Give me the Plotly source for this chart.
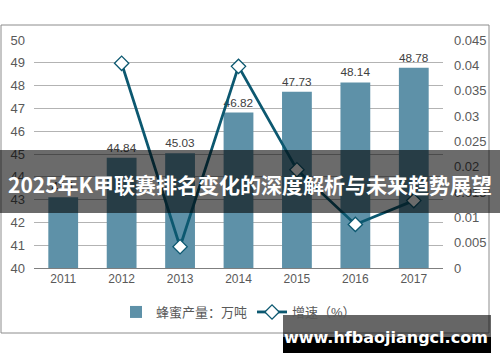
import plotly.graph_objects as go

years = ["2011", "2012", "2013", "2014", "2015", "2016", "2017"]
production = [43.1, 44.84, 45.03, 46.82, 47.73, 48.14, 48.78]
growth_years = ["2012", "2013", "2014", "2015", "2016", "2017"]
growth = [0.0404, 0.0042, 0.0398, 0.0194, 0.0086, 0.0133]
left_ticks = [40, 41, 42, 43, 44, 45, 46, 47, 48, 49, 50]
right_ticks = [0, 0.005, 0.01, 0.015, 0.02, 0.025, 0.03, 0.035, 0.04, 0.045]
right_tick_text = ["0", "0.005", "0.01", "0.015", "0.02", "0.025", "0.03", "0.035", "0.04", "0.045"]

FONT = "Liberation Sans, Arial, Noto Sans CJK SC, sans-serif"
TXT = "#595959"
BAR = "#5e91a8"
LINE = "#0c5870"

fig = go.Figure()
fig.add_trace(go.Bar(
    x=years, y=production, name="蜂蜜产量：万吨",
    marker=dict(color=BAR, line=dict(width=0)),
    text=[f"{v:g}" for v in production], textposition="outside",
    textfont=dict(size=12, color="#404040", family=FONT),
    cliponaxis=False, yaxis="y",
))
fig.add_trace(go.Scatter(
    x=growth_years, y=growth, name="增速（%）", mode="lines+markers",
    line=dict(color=LINE, width=2.8),
    marker=dict(symbol="diamond", size=11, color="white", line=dict(color=LINE, width=1.3)),
    yaxis="y2", cliponaxis=False,
))

L, R, T, B = 34, 57, 40, 94
W, H = 500, 362
pw, ph = W - L - R, H - T - B

def px(x):
    return (x - L) / pw

def py(y):
    return (H - B - y) / ph

shapes = [
    dict(type="rect", xref="paper", yref="paper", x0=px(1), x1=px(489), y0=py(25), y1=py(333),
         line=dict(color="#8c8c8c", width=1), fillcolor="rgba(0,0,0,0)", layer="below"),
    dict(type="rect", xref="paper", yref="paper", x0=px(0), x1=px(500), y0=py(150), y1=py(213),
         line=dict(width=0), fillcolor="rgba(0,0,0,0.58)", layer="above"),
    dict(type="rect", xref="paper", yref="paper", x0=px(283), x1=px(491), y0=py(315), y1=py(337),
         line=dict(width=0), fillcolor="rgba(0,0,0,0.6)", layer="above"),
    dict(type="rect", xref="paper", yref="paper", x0=px(283), x1=px(491), y0=py(337), y1=py(353),
         line=dict(width=0), fillcolor="#000000", layer="above"),
]

annotations = [
    dict(text="<b>2025年K甲联赛排名变化的深度解析与未来趋势展望</b>", xref="paper", yref="paper",
         x=px(250), y=py(184), xanchor="center", yanchor="middle", showarrow=False,
         font=dict(size=21, color="white", family="Noto Sans CJK SC, sans-serif")),
    dict(text="<b>www.hfbaojiangcl.com</b>", xref="paper", yref="paper",
         x=px(386), y=py(337), xanchor="center", yanchor="middle", showarrow=False,
         font=dict(size=16, color="white", family="DejaVu Sans, sans-serif")),
]

fig.update_layout(
    width=W, height=H,
    margin=dict(l=L, r=R, t=T, b=B),
    paper_bgcolor="white", plot_bgcolor="white",
    font=dict(family=FONT, color=TXT, size=13),
    bargap=0.49,
    showlegend=True,
    legend=dict(orientation="h", x=0.5, xanchor="center", y=py(312), yanchor="middle",
                font=dict(size=13, color=TXT, family=FONT), bgcolor="rgba(0,0,0,0)",
                itemwidth=30),
    xaxis=dict(type="category", showgrid=False, showline=True, linecolor="#7f7f7f", linewidth=1,
               ticks="", tickfont=dict(size=12, color=TXT)),
    yaxis=dict(range=[40, 50], tickvals=left_ticks, showgrid=True, gridcolor="#b3b3b3", gridwidth=1,
               zeroline=False, showline=False, ticks="", tickfont=dict(size=13, color=TXT),
               ticklabelstandoff=8),
    yaxis2=dict(range=[0, 0.045], tickvals=right_ticks, ticktext=right_tick_text, overlaying="y",
                side="right", showgrid=False, zeroline=False, showline=False, ticks="",
                tickfont=dict(size=13, color=TXT), ticklabelstandoff=10),
    shapes=shapes,
    annotations=annotations,
)

fig.write_html("out.html", config={"displayModeBar": False},
               post_script="document.body.style.margin='0';document.body.style.padding='0';")
